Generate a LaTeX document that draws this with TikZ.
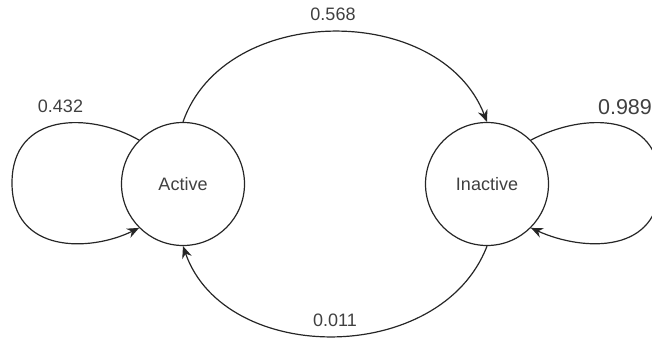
\documentclass[tikz,border=0pt]{standalone}
\usepackage{fontspec}
\setmainfont{Liberation Sans}
\usetikzlibrary{arrows.meta}

\tikzset{
  state/.style={circle, draw=black!85, line width=1.2pt, minimum size=123pt, inner sep=0pt,
                font=\fontsize{18}{21}\selectfont, text=black!75},
  edge/.style={draw=black!85, line width=1.2pt, -{Stealth[length=12pt, width=10pt, inset=4pt]}},
  prob/.style={font=\fontsize{18}{21}\selectfont, text=black!75, inner sep=0pt},
}

\begin{document}
\begin{tikzpicture}[x=1pt, y=-1pt]
  \useasboundingbox (0,0) rectangle (652,340);
  \clip (0,0) rectangle (652,340);

  % states
  \node[state] (act) at (183,184) {Active};
  \node[state] (inact) at (487,184) {Inactive};

  % transitions between the two states
  \draw[edge] (act.90) .. controls (225,2) and (441,2) .. (inact.90);
  \draw[edge] (inact.270) .. controls (441,366) and (225,366) .. (act.270);

  % self loops
  \draw[edge] (act.135) .. controls (90,112) and (12,112) .. (12,183)
                        .. controls (12,254) and (90,252) .. (act.225);
  \draw[edge] (inact.45) .. controls (584,112) and (660,112) .. (660,183)
                         .. controls (660,254) and (584,252) .. (inact.315);

  % probabilities
  \node[prob] (p568) at (333,14) {0.568};
  \node[prob] (p011) at (335,320) {0.011};
  \node[prob] (p432) at (60.5,106) {0.432};
  \node[prob, font=\fontsize{21.5}{25}\selectfont] (p989) at (625,107) {0.989};
\end{tikzpicture}
\end{document}
